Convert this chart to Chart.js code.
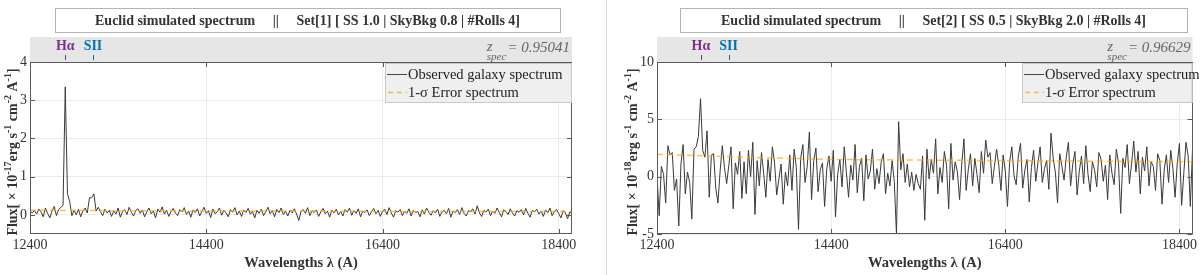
<!DOCTYPE html>
<html><head><meta charset="utf-8">
<script src="https://cdn.jsdelivr.net/npm/chart.js@4/dist/chart.umd.min.js"></script>
<style>
html,body{margin:0;padding:0;background:#fff;width:1200px;height:275px;overflow:hidden;}
#c1{position:absolute;left:0;top:0;}
#c2{position:absolute;left:610px;top:0;}
#div{position:absolute;left:606px;top:0;width:1px;height:275px;background:#dcdcdc;}
</style></head><body>
<canvas id="c1" width="600" height="275"></canvas>
<div id="div"></div>
<canvas id="c2" width="590" height="275"></canvas>
<script>
// ---- data ----
const lambdaStart = 12400;   // Å, first sample
const lambdaStep = 25;       // Å, sample spacing
const xTicks = [12400, 14400, 16400, 18400];
const yTicks1 = [0, 1, 2, 3, 4];
const yTicks2 = [-5, 0, 5, 10];

const obs1 = [
0.10,0.05,0.12,0.02,0.15,0.08,-0.05,0.18,0.04,-0.08,0.10,0.22,-0.02,0.14,0.20,
0.25,3.35,0.55,0.35,-0.02,
0.12,0.00,0.15,-0.05,0.10,0.18,0.05,0.45,0.45,0.55,0.10,
0.20,0.08,-0.02,0.15,0.05,0.12,-0.04,0.10,0.02,0.18,
-0.06,0.09,0.14,0.01,0.20,0.06,-0.03,0.11,0.16,0.04,
0.13,-0.05,0.08,0.18,0.03,0.10,-0.08,0.15,0.07,0.21,
0.02,0.12,-0.04,0.09,0.17,0.05,-0.02,0.14,0.08,0.19,
0.01,0.10,-0.06,0.13,0.06,0.16,-0.03,0.09,0.20,0.04,
0.11,-0.07,0.15,0.03,0.08,0.18,-0.01,0.12,0.05,-0.05,
0.14,0.07,0.19,0.00,0.10,-0.04,0.13,0.06,0.17,0.02,
0.09,-0.08,0.12,0.04,0.15,-0.02,0.08,0.20,0.03,0.11,
-0.05,0.14,0.06,0.18,0.01,0.10,-0.03,0.12,0.05,0.16,
0.02,-0.15,0.09,0.14,0.04,0.19,-0.02,0.11,0.06,0.13,
-0.04,0.08,0.17,0.03,0.10,-0.06,0.12,0.05,0.15,0.00,
0.09,-0.03,0.14,0.07,0.18,-0.01,0.11,0.04,0.16,-0.05,
0.10,0.06,0.13,-0.02,0.08,0.17,0.03,0.12,-0.04,0.09,
0.15,0.01,0.19,0.05,-0.06,0.11,0.07,0.14,-0.02,0.10,
0.04,0.16,-0.03,0.12,0.06,0.09,-0.05,0.13,0.02,0.18,
0.07,-0.01,0.11,0.05,0.15,-0.04,0.08,0.12,0.03,0.17,
-0.06,0.10,0.06,0.14,0.01,0.19,0.04,-0.03,0.11,0.08,
0.16,0.02,0.24,0.05,-0.04,0.12,0.07,0.15,-0.02,0.10,
0.04,0.18,0.06,-0.05,0.13,0.09,0.01,0.16,0.05,-0.03,
0.11,0.07,0.14,0.00,0.17,0.04,-0.06,0.12,0.08,0.15,
0.02,0.10,-0.04,0.13,0.06,0.18,-0.02,0.09,0.14,0.03,
-0.08,0.11,0.05,-0.10,0.08,0.02
];

const obs2 = [
0.1,-3.4,0.9,0.2,-2.3,2.7,1.9,2.1,-1.2,-0.2,
-4.3,1.1,2.8,-1.5,0.4,-0.5,-3.7,2.4,2.6,3.5,
6.8,2.3,1.7,4.0,-1.8,1.9,2.0,-1.0,-2.3,0.5,
2.7,0.8,-0.6,1.0,2.6,-2.8,1.2,0.2,2.2,-1.9,
1.3,-1.5,2.3,0.0,3.0,-3.3,1.4,-0.8,2.1,0.3,
-1.8,1.5,-0.4,2.6,1.2,-1.6,-0.2,1.1,-2.4,0.4,
-0.8,1.9,-1.2,2.4,0.8,-4.6,1.6,2.8,-0.5,0.9,
3.9,-2.0,1.4,2.5,-1.3,0.6,1.2,-2.6,0.7,1.8,
-0.4,2.3,-3.5,0.2,1.5,-0.9,2.6,0.4,-1.8,1.0,
-0.3,2.8,-1.4,0.9,1.6,-2.1,1.9,-0.2,0.5,2.4,
-1.1,0.7,-0.6,1.3,2.0,-1.5,0.3,-0.8,1.4,-0.4,
-5.0,4.8,0.6,2.0,-0.5,1.1,-0.9,0.4,-1.2,0.2,
-0.6,-1.1,1.8,-3.8,2.4,-0.2,1.5,0.3,3.3,-1.5,
0.8,-0.5,2.2,1.0,-2.8,2.9,-0.3,1.3,0.4,-2.0,
1.1,3.3,-1.2,0.6,2.0,-0.8,1.6,0.2,-1.4,2.2,
0.3,3.2,1.7,2.1,-0.6,0.9,2.4,1.0,-1.2,1.9,
0.5,-2.6,1.3,2.6,0.1,-0.7,1.8,2.9,-1.0,0.6,
1.5,-2.2,0.8,2.3,-0.4,1.2,2.6,-0.5,0.7,1.4,
-1.1,3.8,1.6,0.4,-2.3,2.0,0.9,-0.3,1.7,3.0,
-0.8,1.1,2.2,-1.6,0.5,1.8,-0.6,2.7,0.2,-1.3,
1.3,0.6,-0.9,2.1,1.5,-0.4,1.0,-2.0,1.9,0.3,
-0.7,2.4,1.2,-3.2,1.6,0.8,2.8,-0.6,1.1,3.1,
0.4,2.2,-1.5,1.7,0.5,2.6,-0.8,1.3,0.9,-1.2,
2.0,1.4,-2.4,0.6,1.9,-0.5,2.3,0.7,-1.8,1.2,
2.9,-2.5,0.3,3.0,1.8,-2.6,2.4
];

const errLambda = [12400, 13400, 14400, 15400, 16400, 17400, 18550];
const err1 = [0.12, 0.11, 0.10, 0.10, 0.09, 0.09, 0.085];
const err2 = [1.95, 1.70, 1.50, 1.45, 1.40, 1.35, 1.30];

const lineNames = ['H\u03b1', 'SII'];
const lineRest = [6563, 6724];
const zspec = [0.95041, 0.96629];
const titles = [
  'Euclid simulated spectrum     ||     Set[1] [ SS 1.0 | SkyBkg 0.8 | #Rolls 4]',
  'Euclid simulated spectrum     ||     Set[2] [ SS 0.5 | SkyBkg 2.0 | #Rolls 4]'
];
const fluxExp = ['-17', '-18'];
const legendLabels = ['Observed galaxy spectrum', '1-\u03c3 Error spectrum'];

// ---- drawing ----
const SERIF = '"Liberation Serif", "DejaVu Serif", serif';
const lineColors = ['#7e2f8e', '#0072bd'];

function pts(arr){ return arr.map((y,i)=>({x: lambdaStart + i*lambdaStep, y})); }
function errPts(arr){ return arr.map((y,i)=>({x: errLambda[i], y})); }

function makeChart(id, p){
  const decor = {
    id: 'decor'+id,
    afterDatasetsDraw(chart){
      const ctx = chart.ctx, ca = chart.chartArea;
      const xs = chart.scales.x, ys = chart.scales.y;
      ctx.save();
      // title box
      ctx.strokeStyle = '#b4b4b4'; ctx.lineWidth = 1;
      ctx.strokeRect(p.boxL+0.5, 8.5, p.boxW, 24);
      ctx.fillStyle = '#333';
      ctx.font = 'bold 14px ' + SERIF;
      ctx.textAlign = 'center'; ctx.textBaseline = 'middle';
      ctx.fillText(p.title, p.boxL + p.boxW/2, 21);
      // grey band
      ctx.fillStyle = '#e6e6e6';
      ctx.fillRect(ca.left, 37, ca.right - ca.left, ca.top - 37);
      // emission lines
      lineNames.forEach((n,k)=>{
        const lam = lineRest[k]*(1+p.z);
        const x = xs.getPixelForValue(lam);
        ctx.fillStyle = lineColors[k];
        ctx.font = 'bold 14px ' + SERIF;
        ctx.textAlign = 'center'; ctx.textBaseline = 'middle';
        ctx.fillText(n, x, 46);
        ctx.strokeStyle = lineColors[k]; ctx.lineWidth = 1;
        ctx.beginPath(); ctx.moveTo(Math.round(x)+0.5, 55); ctx.lineTo(Math.round(x)+0.5, 60); ctx.stroke();
      });
      // z_spec
      ctx.fillStyle = '#666';
      ctx.textBaseline = 'alphabetic'; ctx.textAlign = 'left';
      ctx.font = 'italic 15px ' + SERIF;
      const tEq = '= ' + p.z.toFixed(5);
      const wEq = ctx.measureText(tEq).width;
      ctx.font = 'italic 11px ' + SERIF;
      const wsub = ctx.measureText('spec').width;
      const xr = ca.right - 2;
      ctx.font = 'italic 15px ' + SERIF;
      ctx.fillText(tEq, xr - wEq, 52);
      ctx.font = 'italic 11px ' + SERIF;
      ctx.fillText('spec', xr - wEq - wsub - 1, 60);
      ctx.font = 'italic 15px ' + SERIF;
      ctx.fillText('z', xr - wEq - wsub - 1, 51);
      // axes box
      ctx.strokeStyle = '#5a5a5a'; ctx.lineWidth = 1;
      ctx.strokeRect(Math.round(ca.left)+0.5, Math.round(ca.top)+0.5, Math.round(ca.right-ca.left)-1, Math.round(ca.bottom-ca.top)-1);
      // inward ticks
      ctx.beginPath();
      xTicks.forEach(v=>{
        const x = Math.round(xs.getPixelForValue(v))+0.5;
        ctx.moveTo(x, ca.bottom); ctx.lineTo(x, ca.bottom-5);
        ctx.moveTo(x, ca.top); ctx.lineTo(x, ca.top+5);
      });
      p.yTicks.forEach(v=>{
        const y = Math.round(ys.getPixelForValue(v))+0.5;
        ctx.moveTo(ca.left, y); ctx.lineTo(ca.left+5, y);
        ctx.moveTo(ca.right, y); ctx.lineTo(ca.right-5, y);
      });
      ctx.stroke();
      // legend
      const lx = p.legL, lt = ca.top + 1, lw = ca.right - p.legL, lh = 40;
      ctx.fillStyle = '#efefef';
      ctx.fillRect(lx, lt, lw, lh);
      ctx.strokeStyle = '#c8c8c8';
      ctx.strokeRect(lx+0.5, lt+0.5, lw-1, lh-1);
      ctx.font = '14.5px ' + SERIF; ctx.fillStyle = '#222';
      ctx.textAlign = 'left'; ctx.textBaseline = 'middle';
      ctx.strokeStyle = '#444'; ctx.lineWidth = 1; ctx.setLineDash([]);
      ctx.beginPath(); ctx.moveTo(lx+2, lt+11.5); ctx.lineTo(lx+22, lt+11.5); ctx.stroke();
      ctx.fillText(legendLabels[0], lx+23, lt+12);
      ctx.strokeStyle = 'rgba(255,165,0,0.75)'; ctx.lineWidth = 1.5; ctx.setLineDash([5,4]);
      ctx.beginPath(); ctx.moveTo(lx+3, lt+29.5); ctx.lineTo(lx+22, lt+29.5); ctx.stroke();
      ctx.setLineDash([]);
      ctx.fillText(legendLabels[1], lx+23, lt+30);
      // x title
      ctx.fillStyle = '#333';
      ctx.font = 'bold 14.5px ' + SERIF;
      ctx.textAlign = 'center'; ctx.textBaseline = 'middle';
      ctx.fillText('Wavelengths \u03bb (A)', (ca.left+ca.right)/2, 263);
      // y title (rotated, with superscripts)
      const parts = [
        ['Flux[ \u00d7 10', false], [p.exp, true], ['erg s', false], ['-1', true],
        [' cm', false], ['-2', true], [' A', false], ['-1', true], [']', false]
      ];
      const fMain = 'bold 14px ' + SERIF, fSup = 'bold 10px ' + SERIF;
      let total = 0;
      parts.forEach(([t,s])=>{ ctx.font = s ? fSup : fMain; total += ctx.measureText(t).width; });
      ctx.translate(p.yTitleX, (ca.top+ca.bottom)/2 + 4);
      ctx.rotate(-Math.PI/2);
      ctx.textAlign = 'left'; ctx.textBaseline = 'alphabetic';
      let cx = -total/2;
      parts.forEach(([t,s])=>{
        ctx.font = s ? fSup : fMain;
        ctx.fillText(t, cx, s ? -1 : 5);
        cx += ctx.measureText(t).width;
      });
      ctx.restore();
    }
  };

  return new Chart(document.getElementById(id), {
    type: 'line',
    data: {
      datasets: [
        { label: legendLabels[0], data: pts(p.obs), borderColor: '#3a3a3a', borderWidth: 1,
          pointRadius: 0, tension: 0, fill: false, order: 1 },
        { label: legendLabels[1], data: errPts(p.err), borderColor: 'rgba(255,165,0,0.7)', borderWidth: 1.5,
          borderDash: [6,4], pointRadius: 0, tension: 0, fill: false, order: 0 }
      ]
    },
    options: {
      responsive: false, animation: false, devicePixelRatio: 1,
      layout: { padding: { left: 0, right: p.padR, top: 62, bottom: 0 } },
      plugins: { legend: { display: false }, tooltip: { enabled: false }, title: { display: false } },
      scales: {
        x: {
          type: 'linear', min: 12400, max: 18550,
          afterBuildTicks: s => { s.ticks = xTicks.map(v=>({value:v})); },
          afterFit: s => { s.height = 41; },
          grid: { color: '#ebebeb', drawTicks: false },
          border: { display: false },
          ticks: { padding: 3, color: '#333', font: { family: SERIF, size: 14 }, maxRotation: 0,
                   callback: v => String(v) }
        },
        y: {
          type: 'linear', min: p.yMin, max: p.yMax,
          afterBuildTicks: s => { s.ticks = p.yTicks.map(v=>({value:v})); },
          afterFit: s => { s.width = p.yW; },
          grid: { color: '#ebebeb', drawTicks: false },
          border: { display: false },
          ticks: { padding: 3, color: '#333', font: { family: SERIF, size: 14 }, callback: v => String(v) }
        }
      }
    },
    plugins: [decor]
  });
}

makeChart('c1', { obs: obs1, err: err1, z: zspec[0], title: titles[0], exp: fluxExp[0],
  yMin: -0.5, yMax: 4, yTicks: yTicks1, yW: 30, padR: 28, boxL: 55, boxW: 505, legL: 385, yTitleX: 12 });
makeChart('c2', { obs: obs2, err: err2, z: zspec[1], title: titles[1], exp: fluxExp[1],
  yMin: -5, yMax: 10, yTicks: yTicks2, yW: 47, padR: 2, boxL: 70, boxW: 507, legL: 412, yTitleX: 22 });
</script>
</body></html>
